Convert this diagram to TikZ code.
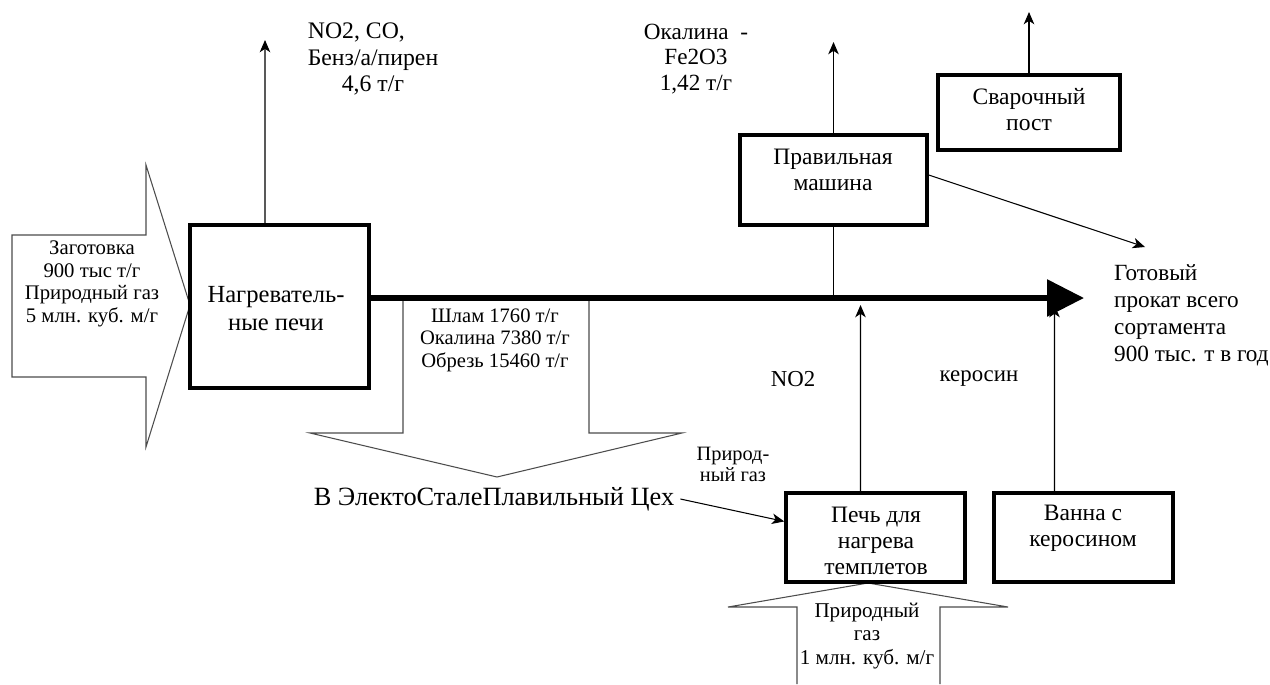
\documentclass[tikz,border=0pt]{standalone}
\usepackage{fontspec}
\setmainfont{Liberation Serif}
\usetikzlibrary{arrows.meta}

\tikzset{
  box/.style={draw, line width=2pt, inner sep=0pt},
  boxtext/.style={align=center, font=\fontsize{13.4}{14.8}\selectfont},
  note/.style={align=center, font=\fontsize{11.7}{12.8}\selectfont},
  flow/.style={draw=black!70, line width=0.6pt, line join=miter},
  emit/.style={-{Stealth[length=7pt,width=6pt,inset=2pt]}, line width=0.6pt},
}

\begin{document}
\begin{tikzpicture}[x=0.02cm, y=-0.02cm]
  \useasboundingbox (0,0) rectangle (1270,684);

  % block arrows
  \draw[flow] (12,235) -- (146,235) -- (146,165) -- (190,305) -- (146,447) -- (146,377) -- (12,377) -- cycle;
  \draw[flow] (403,299) -- (403,433) -- (310,433) -- (497,477) -- (682,433) -- (589,433) -- (589,299);
  \draw[flow] (797,684) -- (797,607) -- (728,607) -- (868,583) -- (1008,607) -- (940,607) -- (940,684);

  % boxes
  \node[box, minimum width=3.58cm, minimum height=3.26cm] (furnace) at (279.5,306.5) {};
  \node[box, minimum width=3.74cm, minimum height=1.8cm] (straight) at (833.5,180) {};
  \node[box, minimum width=3.64cm, minimum height=1.5cm] (weld) at (1029,112.5) {};
  \node[box, minimum width=3.58cm, minimum height=1.78cm] (templet) at (875.5,537.5) {};
  \node[box, minimum width=3.58cm, minimum height=1.78cm] (bath) at (1083.5,537.5) {};

  \node[align=center, font=\fontsize{14}{16}\selectfont] (furnacetxt) at (276,309) {Нагреватель-\\ные печи};
  \node[boxtext] (straighttxt) at (833,170) {Правильная\\машина};
  \node[boxtext] (weldtxt) at (1029,110) {Сварочный\\пост};
  \node[boxtext] (templettxt) at (876,541) {Печь для\\нагрева\\темплетов};
  \node[boxtext] (bathtxt) at (1083,528) {Ванна с\\керосином};

  % texts
  \node[align=center, font=\fontsize{11.8}{12.9}\selectfont] (inputtxt) at (92,284) {Заготовка\\900 тыс т/г\\Природный газ\\5 млн. куб. м/г};
  \node[note] (wastetxt) at (495,340) {Шлам 1760 т/г\\Окалина 7380 т/г\\Обрезь 15460 т/г};
  \node[font=\fontsize{15}{17}\selectfont] (esp) at (494,499) {В ЭлектоСталеПлавильный Цех};
  \node[align=center, font=\fontsize{11.6}{12}\selectfont] (gasnote) at (733,464) {Природ-\\ный газ};
  \node[align=center, font=\fontsize{12}{13.6}\selectfont] (gastxt) at (867,636) {Природный\\газ\\1 млн. куб. м/г};
  \node[font=\fontsize{13}{15}\selectfont] (no2) at (793,379) {NO2};
  \node[font=\fontsize{13}{15}\selectfont] (kero) at (979,379) {керосин};
  \node[align=center, font=\fontsize{13.5}{15.3}\selectfont] (emis) at (373,59) {NO2, CO,\hspace*{1.4em}\\Бенз/а/пирен\\4,6 т/г};
  \node[align=center, font=\fontsize{13.2}{14.6}\selectfont] (scale) at (696,59) {Окалина\ \ -\\Fe2O3\\1,42 т/г};
  \node[align=left, anchor=west, font=\fontsize{13.2}{15.3}\selectfont] (product) at (1108,315) {Готовый\\прокат всего\\сортамента\\900 тыс. т в год};

  % free ends
  \coordinate (lineend) at (1084,298);
  \coordinate (furnaceout) at (265,40);
  \coordinate (straightout) at (833.5,42);
  \coordinate (weldout) at (1029,12);
  \coordinate (productout) at (1145,247);
  \coordinate (noend) at (860.5,305);
  \coordinate (keroend) at (1054.5,305);

  % connectors
  \draw[line width=3.4pt, -{Triangle[length=0.74cm,width=0.72cm]}] (furnace.east |- lineend) -- (lineend);
  \draw[line width=0.6pt] (straight.south) -- (straight.south |- lineend);
  \draw[emit] ([xshift=-0.29cm]furnace.north) -- (furnaceout);
  \draw[emit] (straight.north) -- (straightout);
  \draw[emit] (weld.north) -- (weldout);
  \draw[emit] ([yshift=0.1cm]straight.east) -- (productout);
  \draw[emit] (esp.east) -- (templet.170);
  \draw[emit] ([xshift=-0.3cm]templet.north) -- (noend);
  \draw[emit] ([xshift=-0.58cm]bath.north) -- (keroend);
\end{tikzpicture}
\end{document}
